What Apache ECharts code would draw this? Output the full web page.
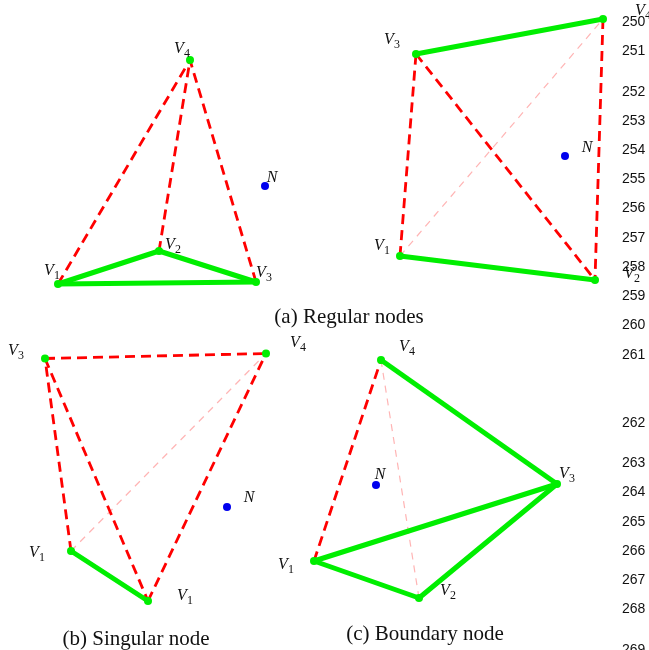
<!DOCTYPE html>
<html><head><meta charset="utf-8">
<style>html,body{margin:0;padding:0;background:#fff}#c{width:649px;height:650px}</style>
<script src="https://cdn.jsdelivr.net/npm/echarts@6/dist/echarts.min.js"></script>
</head><body><div id="c"></div>
<script>
// Vertices of each tetrahedron
const regularV   = {v1:[58,284],  v2:[159,251], v3:[256,282], v4:[190,60]};
const topRightV  = {v1:[400,256], v2:[595,280], v3:[416,54],  v4:[603,19]};
const singularV  = {v1:[71,551],  v2:[148,601], v3:[45,358.5],v4:[266,353.5]};
const boundaryV  = {v1:[314,561], v2:[419,598], v3:[557,484], v4:[381,360]};
const nodesN     = [[265,186],[565,156],[227,507],[376,485]];

// Edges by style: [vertex set, from, to]
const greenEdges = [
  [regularV,'v1','v2'],[regularV,'v2','v3'],[regularV,'v1','v3'],
  [topRightV,'v3','v4'],[topRightV,'v1','v2'],
  [singularV,'v1','v2'],
  [boundaryV,'v1','v3'],[boundaryV,'v1','v2'],[boundaryV,'v2','v3'],[boundaryV,'v3','v4']
];
const redEdges = [
  [regularV,'v1','v4'],[regularV,'v2','v4'],[regularV,'v3','v4'],
  [topRightV,'v1','v3'],[topRightV,'v3','v2'],[topRightV,'v4','v2'],
  [singularV,'v1','v3'],[singularV,'v3','v2'],[singularV,'v3','v4'],[singularV,'v2','v4'],
  [boundaryV,'v1','v4']
];
const pinkEdges = [
  [topRightV,'v1','v4'],[singularV,'v1','v4'],[boundaryV,'v4','v2']
];

// Vertex labels: base, subscript, x, y
const vertexLabels = [
  ['V','4',182,50],['V','1',52,272],['V','2',173,246],['V','3',264,274],
  ['V','3',392,41],['V','4',643,12],['V','1',382,247],['V','2',632,275],
  ['V','3',16,352],['V','4',298,344],['V','1',37,554],['V','1',185,597],
  ['V','4',407,348],['V','3',567,475],['V','1',286,566],['V','2',448,592]
];
const nLabels = [[272,178],[587,148],[249,498],[380,475]];
const captions = [
  ['(a) Regular nodes',349,317.5],['(b) Singular node',136,639.5],['(c) Boundary node',425,634.5]
];
const lineNumbers = [250,251,252,253,254,255,256,257,258,259,260,261,262,263,264,265,266,267,268,269];
const lineNumberY = [22,51,92,121,150,179,208,238,267,296,325,355,423,463,492,522,551,580,609,650];
const lineNumberX = 622;

// Each edge is its own series so that its dash pattern restarts at the vertex
const edgeSeries = (edges, color, width, type, cap, z) => edges.map(([s,a,b]) => ({
  type:'line', data:[s[a], s[b]], showSymbol:false, symbol:'none',
  lineStyle:{color, width, type, cap, opacity:1}, z, silent:true, clip:false
}));
const allVertices = [regularV,topRightV,singularV,boundaryV].flatMap(s => Object.values(s));
const textSeries = (data, label) => ({
  type:'scatter', data, symbolSize:1, itemStyle:{color:'transparent'}, silent:true, z:10, clip:false,
  label:Object.assign({show:true, position:'inside', align:'center', verticalAlign:'middle', opacity:1}, label)
});

const chart = echarts.init(document.getElementById('c'), null, {renderer:'canvas'});
chart.setOption({
  animation:false,
  backgroundColor:'#fff',
  grid:{left:0,right:0,top:0,bottom:0},
  xAxis:{type:'value',min:0,max:649,show:false},
  yAxis:{type:'value',min:0,max:650,inverse:true,show:false},
  series:[
    ...edgeSeries(pinkEdges,'#ffb4b4',1.2,[7,6],'butt',2),
    ...edgeSeries(redEdges,'#ff0000',2.8,[10,6],'butt',3),
    ...edgeSeries(greenEdges,'#00ee00',5,'solid','round',4),
    {type:'scatter',data:allVertices,symbolSize:8,itemStyle:{color:'#00ee00',opacity:1},silent:true,z:5,clip:false},
    {type:'scatter',data:nodesN,symbolSize:8,itemStyle:{color:'#0000ee',opacity:1},silent:true,z:5,clip:false},
    textSeries(vertexLabels.map(d => ({value:[d[2],d[3]],base:d[0],sub:d[1]})),{
      formatter:p => `{b|${p.data.base}}{s|${p.data.sub}}`,
      rich:{
        b:{fontFamily:'Liberation Serif',fontStyle:'italic',fontSize:16,color:'#111',lineHeight:19,verticalAlign:'top'},
        s:{fontFamily:'Liberation Serif',fontSize:12,color:'#111',lineHeight:19,verticalAlign:'bottom',padding:[4,0,0,0]}
      }
    }),
    textSeries(nLabels.map(d => ({value:d})),{
      formatter:'N',fontFamily:'Liberation Serif',fontStyle:'italic',fontSize:16,color:'#111'
    }),
    textSeries(captions.map(d => ({value:[d[1],d[2]],name:d[0]})),{
      formatter:p => p.name,fontFamily:'Liberation Serif',fontSize:21,color:'#111'
    }),
    textSeries(lineNumbers.map((n,i) => ({value:[lineNumberX,lineNumberY[i]],name:String(n)})),{
      formatter:p => p.name,align:'left',fontFamily:'Liberation Sans',fontSize:14,color:'#111'
    })
  ]
});
</script></body></html>
